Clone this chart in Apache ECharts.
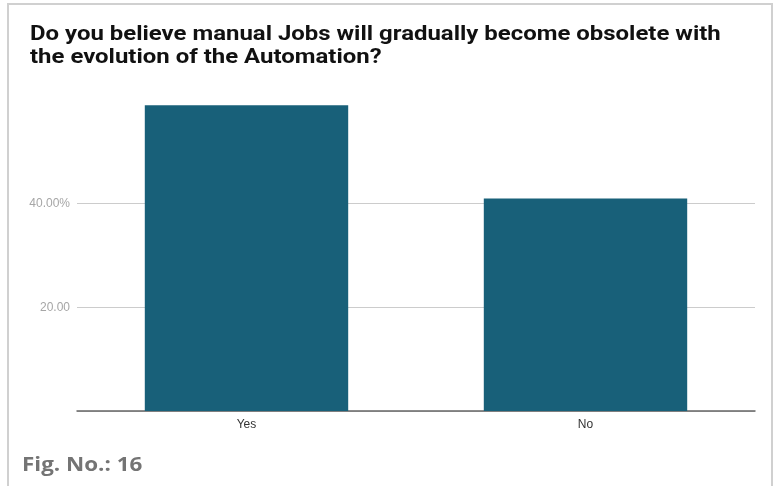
<!DOCTYPE html>
<html>
<head>
<meta charset="utf-8">
<script src="https://cdn.jsdelivr.net/npm/echarts@6/dist/echarts.min.js"></script>
<style>
  html, body { margin: 0; padding: 0; background: #fff; }
  #chart { width: 775px; height: 486px; }
</style>
</head>
<body>
<div id="chart"></div>
<script>
// Survey answers (percent of respondents)
const categories = ['Yes', 'No'];
const shares = [59, 41];

// Value-axis labels as printed on the chart
const tickValues = [20, 40];
const tickLabels = ['20.00', '40.00%'];

const titleText = 'Do you believe manual Jobs will gradually become obsolete with\nthe evolution of the Automation?';
const captionText = 'Fig. No.: 16';

const chart = echarts.init(document.getElementById('chart'), null, { renderer: 'canvas' });

chart.setOption({
  animation: false,
  backgroundColor: '#ffffff',
  graphic: [
    {
      type: 'rect',
      shape: { x: 8, y: 4, width: 764, height: 500 },
      style: { fill: 'none', stroke: '#d0d0d0', lineWidth: 2 },
      z: 0
    },
    {
      // heading, slightly widened Roboto bold
      type: 'text',
      x: 30,
      y: 23,
      originX: 0,
      originY: 0,
      scaleX: 1.14,
      style: {
        text: titleText,
        font: 'bold 21px Roboto, sans-serif',
        lineHeight: 23,
        fill: '#111111',
        verticalAlign: 'top'
      }
    },
    {
      // figure caption under the frame
      type: 'text',
      x: 22,
      y: 455,
      originX: 0,
      originY: 0,
      scaleX: 1.12,
      style: {
        text: captionText,
        font: 'bold 20px "Open Sans", sans-serif',
        fill: '#747474',
        verticalAlign: 'top'
      }
    }
  ],
  grid: { left: 77, right: 20, top: 100, bottom: 75 },
  xAxis: {
    type: 'category',
    data: categories,
    axisLine: { lineStyle: { color: '#666666', width: 1.5 } },
    axisTick: { show: false },
    axisLabel: {
      color: '#333333',
      fontFamily: 'Liberation Sans, Arial, sans-serif',
      fontSize: 12,
      margin: 8
    }
  },
  yAxis: {
    type: 'value',
    min: 0,
    max: 60,
    interval: 20,
    axisLine: { show: false },
    axisTick: { show: false },
    splitLine: {
      show: true,
      showMaxLine: false,
      lineStyle: { color: '#cccccc', width: 1 }
    },
    axisLabel: {
      color: '#a6a6a6',
      fontFamily: 'Liberation Sans, Arial, sans-serif',
      fontSize: 12,
      margin: 7,
      formatter: function (v) {
        const i = tickValues.indexOf(v);
        return i >= 0 ? tickLabels[i] : '';
      }
    }
  },
  series: [{
    type: 'bar',
    data: shares,
    barWidth: '60%',
    itemStyle: { color: '#186079' }
  }]
});
</script>
</body>
</html>
